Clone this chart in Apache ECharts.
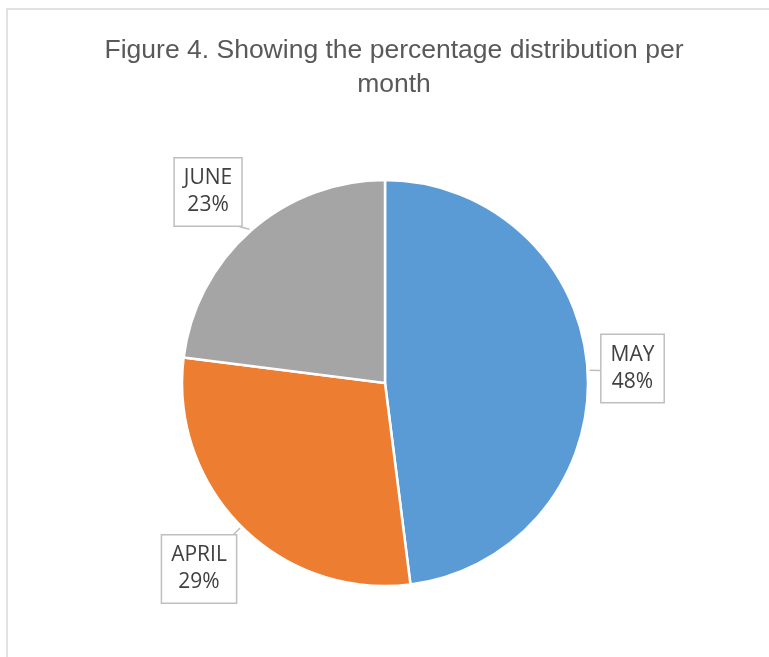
<!DOCTYPE html>
<html>
<head>
<meta charset="utf-8">
<style>
  html, body { margin: 0; padding: 0; background: #ffffff; }
  #chart { width: 769px; height: 657px; }
</style>
<script src="https://cdn.jsdelivr.net/npm/echarts@6/dist/echarts.min.js"></script>
</head>
<body>
<div id="chart"></div>
<script>
// ---- data ----
const titleText = 'Figure 4. Showing the percentage distribution per\nmonth';
const categories = ['MAY', 'APRIL', 'JUNE'];
const percentValues = [48, 29, 23];
const sliceColors = ['#5b9bd5', '#ed7d31', '#a5a5a5'];
// distance (px) from pie centre to the centre of each callout box, plus a small nudge
const labelDistance = [248, 263, 260];
const labelNudge = [[0, 1], [0, 0], [-5, 4]];

// ---- layout ----
const CX = 385, CY = 383, R = 203;

const total = percentValues.reduce((a, b) => a + b, 0);
const midAngles = [];
let acc = 0;
percentValues.forEach(v => {
  midAngles.push(((acc + v / 2) / total) * 2 * Math.PI);
  acc += v;
});

const chart = echarts.init(document.getElementById('chart'), null, { renderer: 'canvas' });

const option = {
  backgroundColor: '#ffffff',
  animation: false,
  title: {
    text: titleText,
    left: 394,
    top: 34,
    textAlign: 'center',
    padding: 0,
    textStyle: {
      fontFamily: '"Liberation Sans", Arial, sans-serif',
      fontSize: 26.5,
      fontWeight: 'normal',
      color: '#595959',
      lineHeight: 34
    }
  },
  graphic: [{
    type: 'rect',
    shape: { x: 7, y: 9, width: 820, height: 720 },
    style: { fill: 'none', stroke: '#d9d9d9', lineWidth: 1.5 },
    silent: true
  }],
  series: [{
    type: 'pie',
    center: [CX, CY],
    radius: R,
    startAngle: 90,
    clockwise: true,
    avoidLabelOverlap: false,
    itemStyle: { borderColor: '#ffffff', borderWidth: 2.5 },
    label: {
      show: true,
      position: 'outside',
      formatter: p => p.name + '\n' + p.value + '%',
      fontFamily: '"Open Sans", sans-serif',
      fontSize: 21,
      lineHeight: 27,
      color: '#404040',
      align: 'center',
      backgroundColor: '#ffffff',
      borderColor: '#bfbfbf',
      borderWidth: 1.5,
      padding: [8, 9, 5, 9]
    },
    labelLine: {
      show: true,
      length: 10,
      length2: 0,
      lineStyle: { color: '#bfbfbf', width: 1.5 }
    },
    labelLayout: function (params) {
      const i = params.dataIndex;
      const a = midAngles[i];
      const dx = Math.sin(a), dy = -Math.cos(a);
      const d = labelDistance[i];
      const lx = CX + dx * d + labelNudge[i][0], ly = CY + dy * d + labelNudge[i][1];
      const w = params.labelRect.width, h = params.labelRect.height;
      const tx = Math.abs(dx) > 1e-6 ? (w / 2) / Math.abs(dx) : Infinity;
      const ty = Math.abs(dy) > 1e-6 ? (h / 2) / Math.abs(dy) : Infinity;
      const edge = d - Math.min(tx, ty);
      return {
        x: lx,
        y: ly,
        align: 'center',
        verticalAlign: 'middle',
        labelLinePoints: [
          [CX + dx * (R + 2), CY + dy * (R + 2)],
          [CX + dx * (edge + 1) + labelNudge[i][0], CY + dy * (edge + 1) + labelNudge[i][1]]
        ]
      };
    },
    data: categories.map((c, i) => ({
      name: c,
      value: percentValues[i],
      itemStyle: { color: sliceColors[i] }
    }))
  }]
};

chart.setOption(option);
</script>
</body>
</html>
